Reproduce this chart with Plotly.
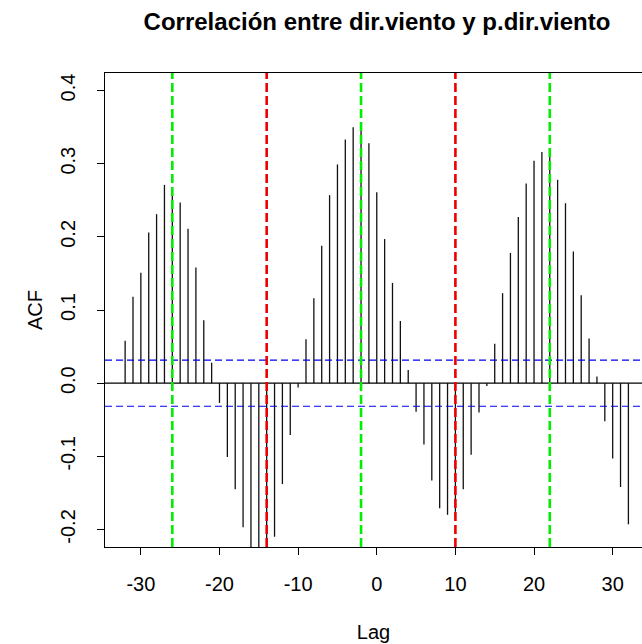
import plotly.graph_objects as go

# Cross-correlation estimates between wind direction and its predicted value
lags = list(range(-32, 33))
acf = [
    0.058, 0.118, 0.151, 0.206, 0.231, 0.271, 0.268, 0.247, 0.211, 0.158,
    0.086, 0.028, -0.027, -0.101, -0.145, -0.197, -0.230, -0.235, -0.232, -0.210,
    -0.138, -0.071, -0.006, 0.060, 0.116, 0.188, 0.257, 0.299, 0.333, 0.350,
    0.348, 0.328, 0.261, 0.197, 0.137, 0.085, 0.018, -0.039, -0.084, -0.133,
    -0.171, -0.180, -0.176, -0.145, -0.098, -0.040, -0.004, 0.054, 0.123, 0.178,
    0.227, 0.273, 0.304, 0.316, 0.312, 0.278, 0.246, 0.180, 0.120, 0.061,
    0.009, -0.052, -0.103, -0.142, -0.193,
]
ci_bound = 0.0316
peak_lags = [-26, -2, 22]
trough_lags = [-14, 10]

x_ticks = [-30, -20, -10, 0, 10, 20, 30]
x_tick_text = ["-30", "-20", "-10", "0", "10", "20", "30"]
y_ticks = [-0.2, -0.1, 0.0, 0.1, 0.2, 0.3, 0.4]
y_tick_text = ["-0.2", "-0.1", "0.0", "0.1", "0.2", "0.3", "0.4"]

FONT = "Liberation Sans, Arial, Helvetica, sans-serif"

# vertical spikes from zero to each coefficient
sx, sy = [], []
for lag, v in zip(lags, acf):
    sx += [lag, lag, None]
    sy += [0, v, None]

fig = go.Figure()
fig.add_trace(go.Scatter(x=sx, y=sy, mode="lines",
                         line=dict(color="#111111", width=1.3),
                         hoverinfo="skip", showlegend=False))

x_lo, x_hi = -34.56, 33.73
y_lo, y_hi = -0.224, 0.424

shapes = []
# zero line
shapes.append(dict(type="line", xref="paper", yref="y", x0=0, x1=1, y0=0, y1=0,
                   line=dict(color="black", width=1.2), layer="above"))
# confidence bounds
for b in (ci_bound, -ci_bound):
    shapes.append(dict(type="line", xref="paper", yref="y", x0=0, x1=1, y0=b, y1=b,
                       line=dict(color="#0000ee", width=1.2, dash="7px,4px"),
                       layer="above"))
# marked lags
for lag in peak_lags:
    shapes.append(dict(type="line", xref="x", yref="paper", x0=lag, x1=lag, y0=0, y1=1,
                       line=dict(color="#00ee00", width=2.6, dash="9px,4px"),
                       layer="above"))
for lag in trough_lags:
    shapes.append(dict(type="line", xref="x", yref="paper", x0=lag, x1=lag, y0=0, y1=1,
                       line=dict(color="#ee0000", width=2.6, dash="9px,4px"),
                       layer="above"))

fig.update_layout(
    width=642, height=644,
    margin=dict(l=105, r=0, t=73, b=97),
    paper_bgcolor="white", plot_bgcolor="white",
    font=dict(family=FONT, size=20, color="black"),
    shapes=shapes,
    title=dict(text="<b>Correlación entre dir.viento y p.dir.viento</b>",
               x=0.5065, xref="paper", xanchor="center",
               y=0.967, yref="container", yanchor="middle",
               font=dict(family=FONT, size=24, color="black")),
    xaxis=dict(range=[x_lo, x_hi], tickvals=x_ticks, ticktext=x_tick_text,
               ticks="outside", ticklen=7,
               tickwidth=1, tickcolor="black", showline=True, linecolor="black",
               linewidth=1.2, mirror=True, showgrid=False, zeroline=False,
               tickfont=dict(size=20), ticklabelstandoff=12,
               title=dict(text="Lag", font=dict(size=20), standoff=30)),
    yaxis=dict(range=[y_lo, y_hi], tickvals=y_ticks, ticktext=y_tick_text,
               ticks="outside", ticklen=7, tickwidth=1, tickcolor="black",
               showline=True, linecolor="black", linewidth=1.2, mirror=False,
               showgrid=False, zeroline=False, tickangle=-90,
               tickfont=dict(size=20), ticklabelstandoff=14,
               title=dict(text="ACF", font=dict(size=20), standoff=8)),
)

fig.write_html("out.html")
